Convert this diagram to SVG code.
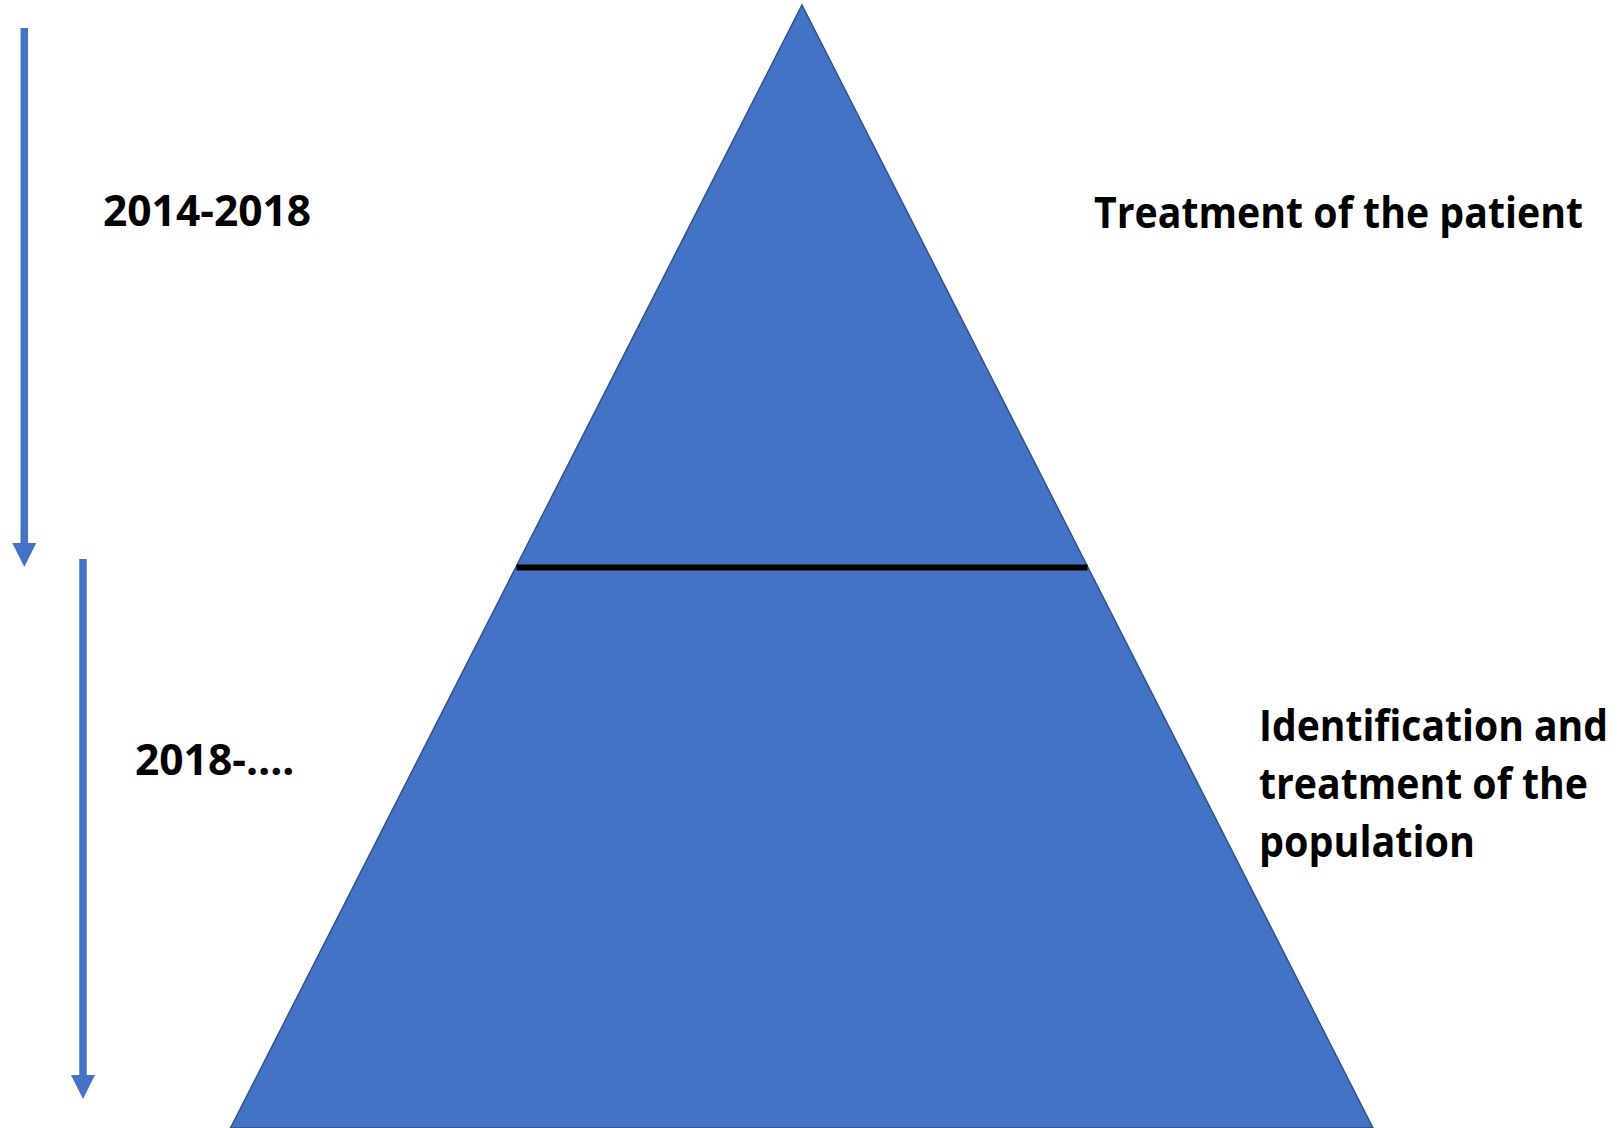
<svg xmlns="http://www.w3.org/2000/svg" width="1621" height="1128" viewBox="0 0 1621 1128">
  <style>
    .lbl { font-family: "Open Sans", "Liberation Sans", sans-serif; font-weight: 700; font-size: 42.5px; fill: #000000; }
    .shaft { stroke: #4472C4; stroke-width: 7.5; fill: none; }
  </style>
  <defs>
    <marker id="head" viewBox="0 0 24 24" refX="0" refY="12" markerWidth="24" markerHeight="24" markerUnits="userSpaceOnUse" orient="auto">
      <path d="M0,0 L24,12 L0,24 Z" fill="#4472C4"/>
    </marker>
  </defs>
  <rect x="0" y="0" width="1621" height="1128" fill="#FFFFFF"/>
  <g id="pyramid">
    <polygon points="802,5 1373,1128 230.5,1128" fill="#4472C4" stroke="#2F528F" stroke-width="1.5"/>
    <line x1="516.5" y1="567.5" x2="1087.5" y2="567.5" stroke="#000000" stroke-width="6"/>
  </g>
  <g id="connectors">
    <line class="shaft" x1="24.3" y1="28" x2="24.3" y2="543" marker-end="url(#head)"/>
    <line class="shaft" x1="83" y1="559" x2="83" y2="1075" marker-end="url(#head)"/>
  </g>
  <g id="label-2014-2018">
    <text class="lbl" x="103" y="226">2014-2018</text>
  </g>
  <g id="label-2018">
    <text class="lbl" x="135" y="775">2018-….</text>
  </g>
  <g id="label-patient">
    <text class="lbl" x="1094" y="228" textLength="489" lengthAdjust="spacingAndGlyphs">Treatment of the patient</text>
  </g>
  <g id="label-population">
    <text class="lbl" x="1259" y="741" textLength="349" lengthAdjust="spacingAndGlyphs">Identification and</text>
    <text class="lbl" x="1259" y="799" textLength="329" lengthAdjust="spacingAndGlyphs">treatment of the</text>
    <text class="lbl" x="1259" y="857" textLength="216" lengthAdjust="spacingAndGlyphs">population</text>
  </g>
</svg>
